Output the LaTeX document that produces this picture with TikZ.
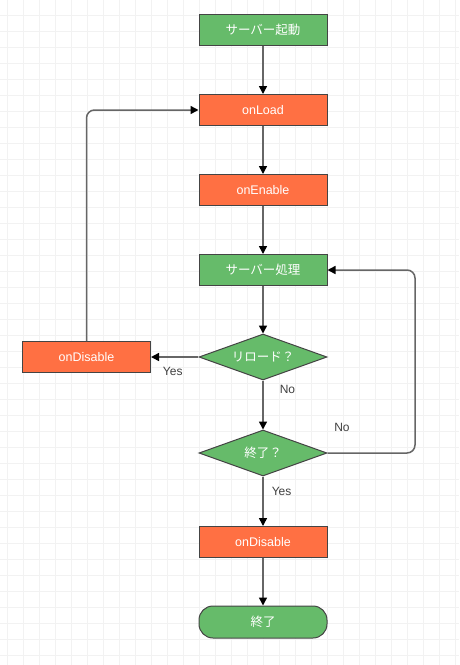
\documentclass[tikz,border=0pt]{standalone}
\usepackage{fontspec}
\setmainfont{Liberation Sans}
\newfontfamily\jp{Noto Sans CJK JP}
\usetikzlibrary{shapes.geometric,arrows.meta}
\definecolor{gr}{HTML}{66BB6A}
\definecolor{org}{HTML}{FF7043}
\definecolor{edge}{HTML}{444444}
\definecolor{ln}{HTML}{666666}
\definecolor{grid}{HTML}{F2F2F2}
\tikzset{
  base/.style={draw=edge, line width=1pt, text=white, font=\fontsize{12.5}{14}\selectfont, inner sep=0pt},
  gbox/.style={base, fill=gr, minimum width=128pt, minimum height=31pt},
  obox/.style={base, fill=org, minimum width=128pt, minimum height=31pt},
  dec/.style={base, fill=gr, diamond, aspect=2.78, minimum width=128pt, minimum height=46pt},
  term/.style={base, fill=gr, rounded corners=14pt, minimum width=128pt, minimum height=32pt},
  conn/.style={draw=ln, line width=1.5pt, -{Triangle[length=8pt,width=8pt,color=black]}},
  lbl/.style={text=black!75, font=\fontsize{12}{14}\selectfont, inner sep=0pt}
}
\begin{document}
\begin{tikzpicture}[x=1pt,y=-1pt]
\useasboundingbox (0,0) rectangle (459,665);
\fill[white] (0,0) rectangle (459,665);
\foreach \i in {0,...,28} {\draw[grid, line width=0.8pt] (7.5+16*\i,0) -- (7.5+16*\i,665);}
\foreach \j in {0,...,41} {\draw[grid, line width=0.8pt] (0,15+16*\j) -- (459,15+16*\j);}

\node[gbox] (start) at (263,30) {\jp サーバー起動};
\node[obox] (load) at (263,110) {onLoad};
\node[obox] (enable) at (263,190) {onEnable};
\node[gbox] (proc) at (263,270) {\jp サーバー処理};
\node[dec] (reload) at (263,357) {\jp リロード？};
\node[obox] (dis1) at (86.5,357) {onDisable};
\node[dec] (end) at (263,453) {\jp 終了？};
\node[obox] (dis2) at (263,542) {onDisable};
\node[term] (fin) at (263,622) {\jp 終了};

\coordinate (rc) at (415,453);
\coordinate (rt) at (415,270);
\coordinate (lc) at (86.5,110);

\draw[conn] (start) -- (load);
\draw[conn] (load) -- (enable);
\draw[conn] (enable) -- (proc);
\draw[conn] (proc) -- (reload);
\draw[conn] (reload) -- node[lbl, pos=0.5, below=9pt, xshift=-2pt] {Yes} (dis1);
\draw[conn] (reload) -- node[lbl, pos=0.1, right=16pt, yshift=-4pt] {No} (end);
\draw[conn, rounded corners=8pt] (end.east) -- (rc) -- (rt) -- (proc.east);
\node[lbl] at (342,427) {No};
\draw[conn] (end) -- node[lbl, pos=0.3, right=8pt] {Yes} (dis2);
\draw[conn] (dis2) -- (fin);
\draw[conn, rounded corners=8pt] (dis1.north) -- (lc) -- (load.west);
\end{tikzpicture}
\end{document}
